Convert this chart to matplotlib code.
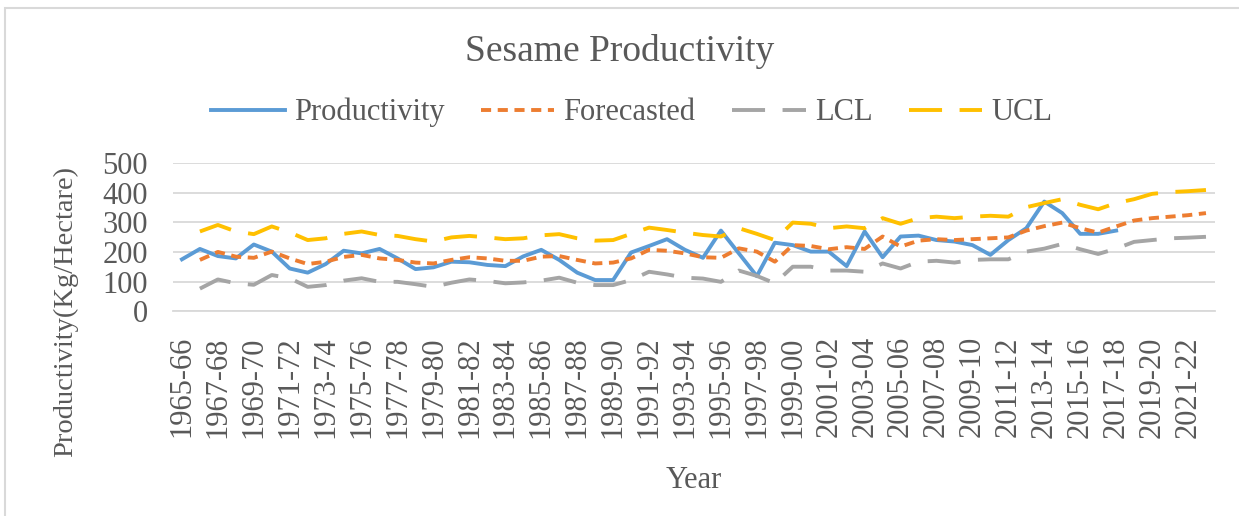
import matplotlib
matplotlib.use("Agg")
import matplotlib.pyplot as plt
from matplotlib.patches import Rectangle
import numpy as np

plt.rcParams["font.family"] = ["Liberation Serif", "DejaVu Serif"]

# 1965-66 ... 2022-23
years = [f"{y}-{str(y + 1)[-2:]}" for y in range(1965, 2023)]

productivity = [175, 210, 186, 178, 225, 201, 144, 130, 159, 204,
                195, 210, 178, 142, 148, 167, 165, 156, 152, 185,
                207, 173, 130, 105, 105, 198, 220, 243, 207, 180,
                272, 195, 118, 231, 223, 201, 201, 152, 269, 182,
                252, 255, 240, 235, 223, 190, 240, 280, 370, 331,
                261, 261, 272]

forecasted = [None, 173, 200, 184, 180, 201, 178, 159, 167, 183,
              190, 178, 173, 164, 161, 173, 182, 178, 170, 170,
              184, 186, 173, 161, 164, 178, 207, 204, 195, 182,
              180, 212, 201, 167, 223, 220, 209, 216, 210, 252,
              218, 238, 243, 240, 243, 246, 249, 272, 287, 299,
              280, 265, 286, 306, 314, 319, 324, 331]

lcl = [None, 76, 107, 94, 89, 122, 111, 82, 88, 103,
       111, 99, 99, 91, 82, 96, 107, 102, 94, 97,
       103, 113, 96, 88, 88, 105, 133, 124, 113, 110,
       99, 137, 119, 94, 150, 150, 137, 137, 133, 161,
       144, 167, 170, 164, 173, 175, 175, 201, 211, 227,
       209, 193, 211, 234, 240, 246, 248, 251]

ucl = [None, 269, 291, 269, 260, 286, 266, 240, 246, 261,
       269, 257, 254, 243, 235, 249, 254, 249, 243, 246,
       256, 260, 246, 238, 240, 261, 282, 274, 265, 257,
       252, 280, 261, 240, 299, 295, 280, 286, 280, 314,
       295, 314, 319, 314, 319, 322, 319, 351, 365, 378,
       359, 344, 365, 378, 396, 402, 405, 409]

text_col = "#595959"
x = np.arange(len(years))


def arr(vals):
    return np.array([np.nan if v is None else v for v in vals], dtype=float)


fig = plt.figure(figsize=(12.39, 5.16), dpi=100)
ax = fig.add_axes([0.1396, 0.397, 0.8410, 0.287])

ax.plot(x[:len(productivity)], arr(productivity), color="#5B9BD5", lw=2.8,
        label="Productivity", solid_joinstyle="round")
ax.plot(x, arr(forecasted), color="#ED7D31", lw=2.8, dashes=(2.6, 1.7),
        label="Forecasted")
ax.plot(x, arr(lcl), color="#A5A5A5", lw=2.8, dashes=(8.5, 4.5), label="LCL")
ax.plot(x, arr(ucl), color="#FFC000", lw=2.8, dashes=(8.5, 4.5), label="UCL")

ax.set_xlim(-0.5, len(years) - 0.5)
ax.set_ylim(0, 500)
ax.set_yticks(range(0, 501, 100))
ax.set_xticks(x[::2])
ax.set_xticklabels(years[::2], rotation=90)
ax.tick_params(axis="both", length=0, labelsize=22, colors=text_col)
ax.tick_params(axis="y", pad=18)
ax.tick_params(axis="x", pad=18)
ax.grid(axis="y", color="#D9D9D9", lw=1.3)
ax.set_axisbelow(True)
for s in ["top", "right", "left"]:
    ax.spines[s].set_visible(False)
ax.spines["bottom"].set_color("#D9D9D9")
ax.spines["bottom"].set_linewidth(1.3)

ax.set_xlabel("Year", fontsize=22, color=text_col, labelpad=20)
ax.set_ylabel("Productivity(Kg/Hectare)", fontsize=20.5, color=text_col)
ax.yaxis.set_label_coords(-0.091, 0.0)

fig.text(0.5, 0.9, "Sesame Productivity", ha="center", va="center",
         fontsize=27, color=text_col)
fig.legend(loc="center", bbox_to_anchor=(0.510, 0.782), ncol=4, frameon=False,
           fontsize=22, labelcolor=text_col, handlelength=2.4,
           handletextpad=0.3, columnspacing=1.2)

fig.patches.append(Rectangle((0.004, -0.01), 0.999, 0.995, transform=fig.transFigure,
                             fill=False, edgecolor="#D9D9D9", lw=1.5))

fig.savefig("out.png", dpi=100)
